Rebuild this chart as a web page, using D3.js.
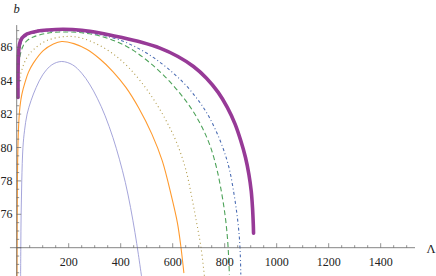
<!DOCTYPE html>
<html><head><meta charset="utf-8">
<script src="https://cdn.jsdelivr.net/npm/d3@7"></script>
<style>html,body{margin:0;padding:0;background:#fff;}svg{display:block;} text{font-family:'Liberation Serif','DejaVu Serif',serif;}</style>
</head><body>
<svg id="c" width="436" height="276"></svg>
<script>
// ---- data ----
const xMajorTicks = [200, 400, 600, 800, 1000, 1200, 1400];
const yMajorTicks = [76, 78, 80, 82, 84, 86];
const xLabel = "Λ";
const yLabel = "b";

const lavenderL = [15, 15.8, 17, 19.5, 24, 30, 40, 55, 75, 100, 135, 173, 215, 250, 280, 310, 340, 370, 395, 418, 438, 455, 468, 480];
const lavenderB = [72.3, 74, 76, 78, 80, 81.0, 82.0, 82.8, 83.6, 84.35, 84.95, 85.15, 84.95, 84.45, 83.8, 82.95, 81.9, 80.6, 79.3, 77.9, 76.4, 74.9, 73.6, 72.3];

const orangeL = [1, 2, 4, 8, 13, 20, 32, 45, 64, 102, 141, 173, 220, 269, 320, 370, 420, 470, 520, 560, 595, 618, 632, 643];
const orangeB = [72.3, 76, 79.5, 81.5, 82.5, 83.2, 83.9, 84.5, 85.05, 85.8, 86.2, 86.35, 86.22, 85.88, 85.3, 84.55, 83.6, 82.35, 80.8, 79.2, 77.1, 75.5, 74.0, 72.5];

const dottedL = [3, 7, 13, 25, 40, 64, 115, 192, 250, 320, 380, 430, 480, 530, 575, 615, 650, 675, 692, 709, 722];
const dottedB = [83.0, 83.7, 84.25, 84.9, 85.4, 85.85, 86.4, 86.65, 86.55, 86.1, 85.5, 84.8, 83.9, 82.8, 81.6, 80.3, 78.7, 76.9, 75.5, 74.0, 72.3];

const dashedL = [4, 7, 13, 25, 40, 64, 120, 192, 260, 320, 390, 450, 510, 570, 625, 675, 715, 745, 770, 788, 801, 810, 815, 818];
const dashedB = [83.5, 84.6, 85.5, 86.1, 86.4, 86.62, 86.85, 86.92, 86.85, 86.68, 86.3, 85.8, 85.1, 84.25, 83.3, 82.25, 81.15, 80.05, 78.7, 77.3, 76.0, 74.7, 73.5, 72.4];

const dashDotL = [5, 9, 16, 30, 64, 130, 192, 260, 330, 400, 460, 520, 580, 640, 690, 730, 765, 795, 818, 836, 848, 856, 860, 862];
const dashDotB = [84.5, 85.6, 86.2, 86.6, 86.85, 86.97, 87.0, 86.92, 86.72, 86.42, 86.0, 85.45, 84.75, 83.9, 83.0, 82.1, 81.05, 79.9, 78.7, 77.2, 75.9, 74.7, 73.6, 72.4];

const purpleL = [5, 5.3, 7, 11, 20, 40, 80, 120, 180, 250, 320, 400, 480, 551, 620, 680, 730, 775, 810, 840, 862, 880, 893, 902, 907, 910, 911];
const purpleB = [83.0, 84.5, 85.6, 86.2, 86.55, 86.8, 86.97, 87.04, 87.08, 87.02, 86.86, 86.6, 86.3, 85.95, 85.45, 84.85, 84.15, 83.3, 82.4, 81.4, 80.4, 79.4, 78.4, 77.4, 76.4, 75.4, 74.87];

const seriesDefs = [
  {L: lavenderL, B: lavenderB, color: "#9b9bd6", width: 0.9, dash: null},
  {L: orangeL, B: orangeB, color: "#ff9a2e", width: 1.1, dash: null},
  {L: dottedL, B: dottedB, color: "#b09a48", width: 1.1, dash: "1,3"},
  {L: dashedL, B: dashedB, color: "#4ea35a", width: 1.1, dash: "5,3"},
  {L: dashDotL, B: dashDotB, color: "#4a6cb3", width: 1.1, dash: "3,2.5,1,2.5"},
  {L: purpleL, B: purpleB, color: "#973a97", width: 3.6, dash: null}
];

// ---- scales ----
const svg = d3.select("#c");
const x = d3.scaleLinear().domain([0, 1532]).range([16.7, 415]);
const y = d3.scaleLinear().domain([74, 86]).range([247.7, 47.3]);
const yTop = 87.33, yBot = 72.2;
const axisColor = "#666";
const fontFam = "'Liberation Serif','DejaVu Serif',serif";

// clip
svg.append("clipPath").attr("id", "clip").append("rect")
  .attr("x", x(-26)).attr("y", y(yTop)).attr("width", x(1532) - x(-26)).attr("height", y(yBot) - y(yTop));

// curves
const line = d3.line().x(d => x(d[0])).y(d => y(d[1])).curve(d3.curveCatmullRom.alpha(0.5));
const g = svg.append("g").attr("clip-path", "url(#clip)");
seriesDefs.forEach(s => {
  const pts = s.L.map((l, i) => [l, s.B[i]]);
  g.append("path").attr("d", line(pts)).attr("fill", "none")
    .attr("stroke", s.color).attr("stroke-width", s.width)
    .attr("stroke-dasharray", s.dash).attr("stroke-linecap", s.dash ? "butt" : "round");
});

// x axis
const ax = svg.append("g");
ax.append("line").attr("x1", x(-26)).attr("x2", x(1532)).attr("y1", y(74)).attr("y2", y(74))
  .attr("stroke", axisColor).attr("stroke-width", 0.8);
d3.range(50, 1501, 50).forEach(v => {
  const major = v % 200 === 0;
  ax.append("line").attr("x1", x(v)).attr("x2", x(v)).attr("y1", y(74)).attr("y2", y(74) - (major ? 4.5 : 2.5))
    .attr("stroke", axisColor).attr("stroke-width", 0.7);
});
xMajorTicks.forEach(v => {
  ax.append("text").attr("x", x(v)).attr("y", 266).attr("text-anchor", "middle")
    .style("font-family", fontFam).attr("font-size", 12).attr("fill", "#222").text(v);
});

// y axis
ax.append("line").attr("x1", x(0)).attr("x2", x(0)).attr("y1", y(yTop)).attr("y2", 276)
  .attr("stroke", axisColor).attr("stroke-width", 0.8);
d3.range(72.5, 87.01, 0.5).forEach(v => {
  const major = Math.abs(v % 2) < 1e-9;
  ax.append("line").attr("x1", x(0)).attr("x2", x(0) + (major ? 4.5 : 2.5)).attr("y1", y(v)).attr("y2", y(v))
    .attr("stroke", axisColor).attr("stroke-width", 0.7);
});
yMajorTicks.forEach(v => {
  ax.append("text").attr("x", 12.5).attr("y", y(v) + 4).attr("text-anchor", "end")
    .style("font-family", fontFam).attr("font-size", 12).attr("fill", "#222").text(v);
});

// axis labels
svg.append("text").attr("x", 13.5).attr("y", 13).style("font-family", fontFam)
  .attr("font-style", "italic").attr("font-size", 12.5).attr("fill", "#222").text(yLabel);
svg.append("text").attr("x", 426.5).attr("y", 253).style("font-family", fontFam)
  .attr("font-size", 12.5).attr("fill", "#222").text(xLabel);
</script>
</body></html>
